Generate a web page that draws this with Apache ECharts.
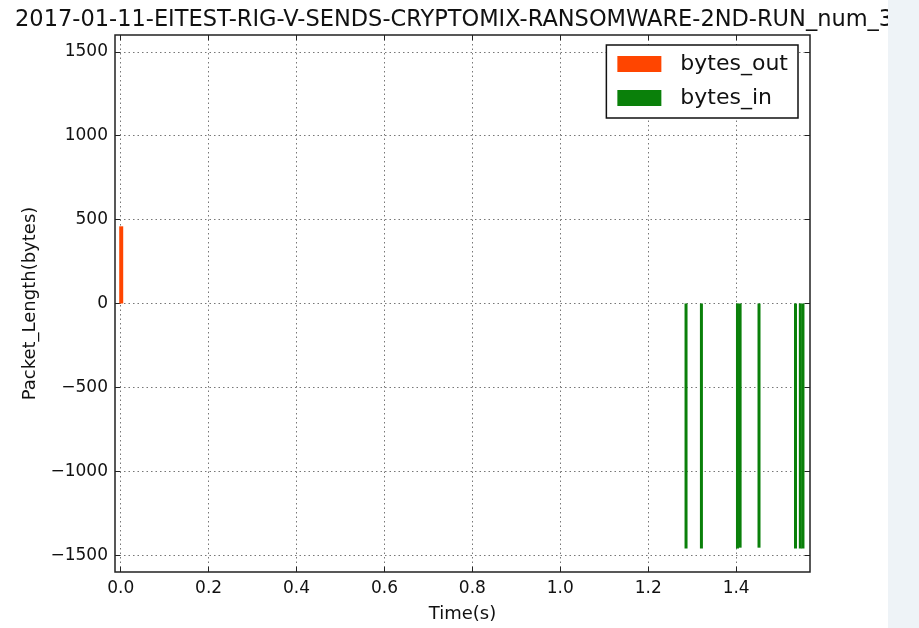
<!DOCTYPE html>
<html>
<head>
<meta charset="utf-8">
<script src="https://cdn.jsdelivr.net/npm/echarts@6/dist/echarts.min.js"></script>
<style>
html,body{margin:0;padding:0;background:#fff;}
#chart{width:919px;height:628px;}
</style>
</head>
<body>
<div id="chart"></div>
<script>
var titleText = '2017-01-11-EITEST-RIG-V-SENDS-CRYPTOMIX-RANSOMWARE-2ND-RUN_num_3';
var outTimes = [0.0];
var outValues = [460];
var inTimes = [1.286, 1.321, 1.403, 1.409, 1.452, 1.535, 1.546, 1.552];
var inValues = [-1460, -1460, -1460, -1455, -1455, -1460, -1460, -1460];
var xTicks = [0.0, 0.2, 0.4, 0.6, 0.8, 1.0, 1.2, 1.4];
var yTicks = [-1500, -1000, -500, 0, 500, 1000, 1500];

function pairs(xs, ys) { return xs.map(function (x, i) { return [x, ys[i]]; }); }

var FONT = 'DejaVu Sans';
var chart = echarts.init(document.getElementById('chart'));
var gridLine = { show: true, lineStyle: { color: '#777', type: [1.5, 3], width: 1 } };
var xMin = -0.013, xMax = 1.568, yMin = -1600, yMax = 1600;
var noLine = { show: false, onZero: false };

chart.setOption({
  animation: false,
  backgroundColor: '#ffffff',
  title: {
    text: titleText, left: 10, top: 4,
    textStyle: { fontFamily: FONT, fontSize: 22.5, fontWeight: 'normal', color: '#111' }
  },
  legend: {
    orient: 'vertical', right: 121, top: 45,
    backgroundColor: '#fff', borderColor: '#111', borderWidth: 1.5,
    padding: [8, 10, 9, 11], itemGap: 12,
    itemWidth: 44, itemHeight: 16, icon: 'rect',
    textStyle: { fontFamily: FONT, fontSize: 22, color: '#111', padding: [0, 0, 0, 14] },
    data: ['bytes_out', 'bytes_in']
  },
  grid: { left: 115, right: 109, top: 35, bottom: 55, show: true, borderColor: '#222', borderWidth: 1.5, backgroundColor: 'transparent' },
  xAxis: [{
    type: 'value', min: xMin, max: xMax, position: 'bottom',
    name: 'Time(s)', nameLocation: 'middle', nameGap: 33,
    nameTextStyle: { fontFamily: FONT, fontSize: 18, color: '#111' },
    axisLine: noLine,
    axisTick: { show: true, inside: true, length: 5, customValues: xTicks, lineStyle: { color: '#222' } },
    axisLabel: { customValues: xTicks, fontFamily: FONT, fontSize: 17, color: '#111', margin: 8,
      formatter: function (v) { return v.toFixed(1); } },
    splitLine: gridLine
  }, {
    type: 'value', min: xMin, max: xMax, position: 'top',
    axisLine: noLine,
    axisTick: { show: true, inside: true, length: 5, customValues: xTicks, lineStyle: { color: '#222' } },
    axisLabel: { show: false }, splitLine: { show: false }
  }],
  yAxis: [{
    type: 'value', min: yMin, max: yMax, position: 'left',
    name: 'Packet_Length(bytes)', nameLocation: 'middle', nameGap: 75,
    nameTextStyle: { fontFamily: FONT, fontSize: 18, color: '#111' },
    axisLine: noLine,
    axisTick: { show: true, inside: true, length: 5, customValues: yTicks, lineStyle: { color: '#222' } },
    axisLabel: { customValues: yTicks, fontFamily: FONT, fontSize: 17, color: '#111', margin: 7,
      formatter: function (v) { return String(v).replace('-', '\u2212'); } },
    splitLine: gridLine
  }, {
    type: 'value', min: yMin, max: yMax, position: 'right',
    axisLine: noLine,
    axisTick: { show: true, inside: true, length: 5, customValues: yTicks, lineStyle: { color: '#222' } },
    axisLabel: { show: false }, splitLine: { show: false }
  }],
  series: [{
    name: 'bytes_out', type: 'bar', xAxisIndex: 0, yAxisIndex: 0,
    barWidth: 4, barGap: '-100%',
    itemStyle: { color: '#ff4500' },
    data: pairs(outTimes, outValues)
  }, {
    name: 'bytes_in', type: 'bar', xAxisIndex: 0, yAxisIndex: 0,
    barWidth: 3, barGap: '-100%',
    itemStyle: { color: '#0a800a' },
    data: pairs(inTimes, inValues)
  }],
  graphic: [{
    type: 'rect', right: 0, top: 0, z: 100,
    shape: { width: 31, height: 628 },
    style: { fill: '#eef3f7' }
  }]
});
</script>
</body>
</html>
